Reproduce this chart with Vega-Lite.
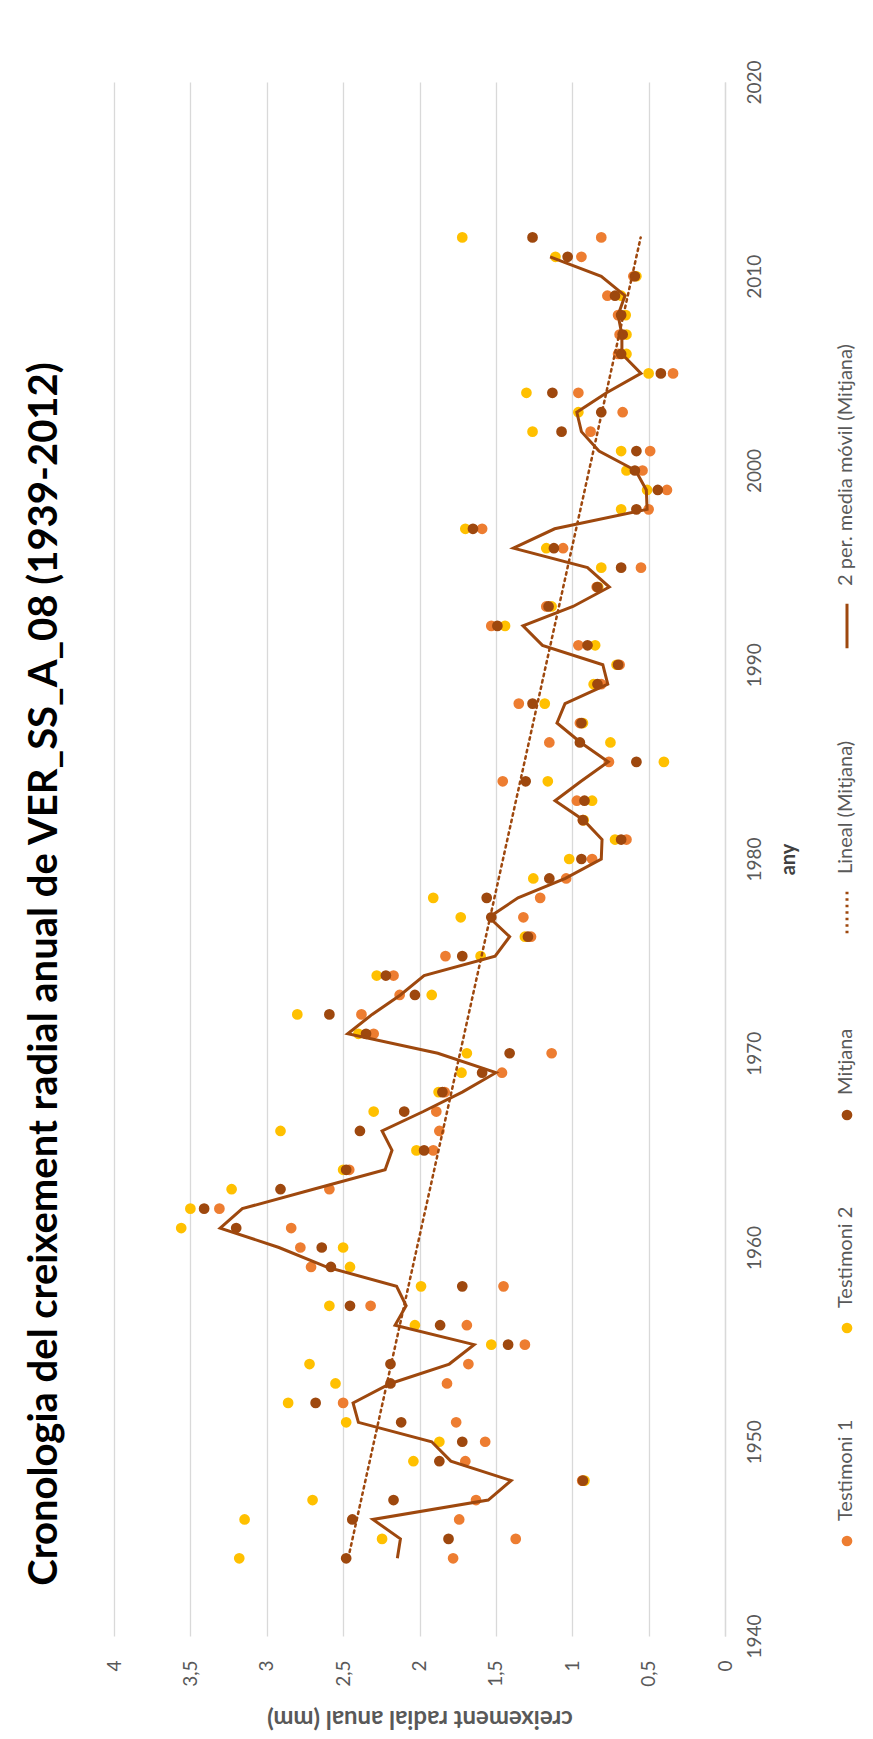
{
  "$schema": "https://vega.github.io/schema/vega-lite/v6.json",
  "width": 611,
  "height": 1554,
  "autosize": {"type": "none"},
  "padding": {"left": 114, "top": 82, "right": 148, "bottom": 103},
  "background": "white",
  "config": {"view": {"stroke": null}, "font": "Lato"},
  "title": {
    "text": "Cronologia del creixement radial anual de VER_SS_A_08 (1939-2012)",
    "orient": "left",
    "anchor": "middle",
    "font": "Lato",
    "fontSize": 40,
    "fontWeight": "bold",
    "color": "#000000",
    "offset": 40,
    "dx": -115
  },
  "data": {
    "values": [
      {"any": 1944, "Testimoni 1": 1.78, "Testimoni 2": 3.18, "Mitjana": 2.48},
      {"any": 1945, "Testimoni 1": 1.37, "Testimoni 2": 2.245, "Mitjana": 1.81},
      {"any": 1946, "Testimoni 1": 1.74, "Testimoni 2": 3.145, "Mitjana": 2.44},
      {"any": 1947, "Testimoni 1": 1.63, "Testimoni 2": 2.70, "Mitjana": 2.17},
      {"any": 1948, "Testimoni 1": 0.935, "Testimoni 2": 0.92, "Mitjana": 0.93},
      {"any": 1949, "Testimoni 1": 1.70, "Testimoni 2": 2.04, "Mitjana": 1.87},
      {"any": 1950, "Testimoni 1": 1.57, "Testimoni 2": 1.87, "Mitjana": 1.72},
      {"any": 1951, "Testimoni 1": 1.76, "Testimoni 2": 2.48, "Mitjana": 2.12},
      {"any": 1952, "Testimoni 1": 2.50, "Testimoni 2": 2.86, "Mitjana": 2.68},
      {"any": 1953, "Testimoni 1": 1.82, "Testimoni 2": 2.55, "Mitjana": 2.19},
      {"any": 1954, "Testimoni 1": 1.68, "Testimoni 2": 2.72, "Mitjana": 2.19},
      {"any": 1955, "Testimoni 1": 1.31, "Testimoni 2": 1.53, "Mitjana": 1.42},
      {"any": 1956, "Testimoni 1": 1.69, "Testimoni 2": 2.03, "Mitjana": 1.865},
      {"any": 1957, "Testimoni 1": 2.32, "Testimoni 2": 2.59, "Mitjana": 2.455},
      {"any": 1958, "Testimoni 1": 1.45, "Testimoni 2": 1.99, "Mitjana": 1.72},
      {"any": 1959, "Testimoni 1": 2.71, "Testimoni 2": 2.455, "Mitjana": 2.58},
      {"any": 1960, "Testimoni 1": 2.78, "Testimoni 2": 2.50, "Mitjana": 2.64},
      {"any": 1961, "Testimoni 1": 2.84, "Testimoni 2": 3.56, "Mitjana": 3.20},
      {"any": 1962, "Testimoni 1": 3.31, "Testimoni 2": 3.50, "Mitjana": 3.41},
      {"any": 1963, "Testimoni 1": 2.59, "Testimoni 2": 3.23, "Mitjana": 2.91},
      {"any": 1964, "Testimoni 1": 2.46, "Testimoni 2": 2.50, "Mitjana": 2.48},
      {"any": 1965, "Testimoni 1": 1.91, "Testimoni 2": 2.02, "Mitjana": 1.97},
      {"any": 1966, "Testimoni 1": 1.87, "Testimoni 2": 2.91, "Mitjana": 2.39},
      {"any": 1967, "Testimoni 1": 1.89, "Testimoni 2": 2.30, "Mitjana": 2.10},
      {"any": 1968, "Testimoni 1": 1.835, "Testimoni 2": 1.875, "Mitjana": 1.85},
      {"any": 1969, "Testimoni 1": 1.46, "Testimoni 2": 1.725, "Mitjana": 1.59},
      {"any": 1970, "Testimoni 1": 1.135, "Testimoni 2": 1.69, "Mitjana": 1.41},
      {"any": 1971, "Testimoni 1": 2.30, "Testimoni 2": 2.40, "Mitjana": 2.35},
      {"any": 1972, "Testimoni 1": 2.38, "Testimoni 2": 2.80, "Mitjana": 2.59},
      {"any": 1973, "Testimoni 1": 2.13, "Testimoni 2": 1.92, "Mitjana": 2.03},
      {"any": 1974, "Testimoni 1": 2.17, "Testimoni 2": 2.28, "Mitjana": 2.22},
      {"any": 1975, "Testimoni 1": 1.83, "Testimoni 2": 1.60, "Mitjana": 1.72},
      {"any": 1976, "Testimoni 1": 1.27, "Testimoni 2": 1.31, "Mitjana": 1.29},
      {"any": 1977, "Testimoni 1": 1.32, "Testimoni 2": 1.73, "Mitjana": 1.53},
      {"any": 1978, "Testimoni 1": 1.21, "Testimoni 2": 1.91, "Mitjana": 1.56},
      {"any": 1979, "Testimoni 1": 1.04, "Testimoni 2": 1.255, "Mitjana": 1.15},
      {"any": 1980, "Testimoni 1": 0.87, "Testimoni 2": 1.02, "Mitjana": 0.94},
      {"any": 1981, "Testimoni 1": 0.645, "Testimoni 2": 0.72, "Mitjana": 0.68},
      {"any": 1982, "Testimoni 1": 0.93, "Testimoni 2": 0.925, "Mitjana": 0.93},
      {"any": 1983, "Testimoni 1": 0.97, "Testimoni 2": 0.87, "Mitjana": 0.92},
      {"any": 1984, "Testimoni 1": 1.455, "Testimoni 2": 1.16, "Mitjana": 1.305},
      {"any": 1985, "Testimoni 1": 0.76, "Testimoni 2": 0.40, "Mitjana": 0.58},
      {"any": 1986, "Testimoni 1": 1.15, "Testimoni 2": 0.75, "Mitjana": 0.95},
      {"any": 1987, "Testimoni 1": 0.95, "Testimoni 2": 0.93, "Mitjana": 0.94},
      {"any": 1988, "Testimoni 1": 1.35, "Testimoni 2": 1.18, "Mitjana": 1.26},
      {"any": 1989, "Testimoni 1": 0.81, "Testimoni 2": 0.86, "Mitjana": 0.835},
      {"any": 1990, "Testimoni 1": 0.69, "Testimoni 2": 0.71, "Mitjana": 0.70},
      {"any": 1991, "Testimoni 1": 0.96, "Testimoni 2": 0.85, "Mitjana": 0.90},
      {"any": 1992, "Testimoni 1": 1.53, "Testimoni 2": 1.44, "Mitjana": 1.49},
      {"any": 1993, "Testimoni 1": 1.17, "Testimoni 2": 1.135, "Mitjana": 1.155},
      {"any": 1994, "Testimoni 1": 0.84, "Testimoni 2": 0.83, "Mitjana": 0.835},
      {"any": 1995, "Testimoni 1": 0.55, "Testimoni 2": 0.81, "Mitjana": 0.68},
      {"any": 1996, "Testimoni 1": 1.06, "Testimoni 2": 1.17, "Mitjana": 1.12},
      {"any": 1997, "Testimoni 1": 1.59, "Testimoni 2": 1.70, "Mitjana": 1.65},
      {"any": 1998, "Testimoni 1": 0.50, "Testimoni 2": 0.68, "Mitjana": 0.58},
      {"any": 1999, "Testimoni 1": 0.38, "Testimoni 2": 0.51, "Mitjana": 0.44},
      {"any": 2000, "Testimoni 1": 0.54, "Testimoni 2": 0.645, "Mitjana": 0.59},
      {"any": 2001, "Testimoni 1": 0.49, "Testimoni 2": 0.68, "Mitjana": 0.58},
      {"any": 2002, "Testimoni 1": 0.88, "Testimoni 2": 1.26, "Mitjana": 1.07},
      {"any": 2003, "Testimoni 1": 0.67, "Testimoni 2": 0.96, "Mitjana": 0.81},
      {"any": 2004, "Testimoni 1": 0.96, "Testimoni 2": 1.30, "Mitjana": 1.13},
      {"any": 2005, "Testimoni 1": 0.34, "Testimoni 2": 0.50, "Mitjana": 0.42},
      {"any": 2006, "Testimoni 1": 0.70, "Testimoni 2": 0.645, "Mitjana": 0.68},
      {"any": 2007, "Testimoni 1": 0.69, "Testimoni 2": 0.645, "Mitjana": 0.67},
      {"any": 2008, "Testimoni 1": 0.70, "Testimoni 2": 0.65, "Mitjana": 0.68},
      {"any": 2009, "Testimoni 1": 0.77, "Testimoni 2": 0.68, "Mitjana": 0.72},
      {"any": 2010, "Testimoni 1": 0.60, "Testimoni 2": 0.58, "Mitjana": 0.59},
      {"any": 2011, "Testimoni 1": 0.94, "Testimoni 2": 1.11, "Mitjana": 1.03},
      {"any": 2012, "Testimoni 1": 0.81, "Testimoni 2": 1.72, "Mitjana": 1.26}
    ]
  },
  "transform": [
    {"fold": ["Testimoni 1", "Testimoni 2", "Mitjana"], "as": ["serie", "valor"]}
  ],
  "encoding": {
    "x": {
      "field": "valor",
      "type": "quantitative",
      "title": "creixement radial anual (mm)",
      "scale": {"domain": [0, 4], "reverse": true, "nice": false, "zero": true},
      "axis": {
        "orient": "bottom",
        "values": [0, 0.5, 1, 1.5, 2, 2.5, 3, 3.5, 4],
        "labelExpr": "replace(toString(datum.value), '.', ',')",
        "labelAngle": -90,
        "labelAlign": "right",
        "labelBaseline": "middle",
        "labelFontSize": 19,
        "labelColor": "#595959",
        "labelPadding": 24,
        "ticks": false,
        "domain": false,
        "grid": true,
        "gridColor": "#D9D9D9",
        "gridWidth": 1.3,
        "titleAngle": 180,
        "titleBaseline": "bottom",
        "titleFontSize": 24,
        "titleFontWeight": "bold",
        "titleColor": "#595959",
        "titlePadding": 19
      }
    },
    "y": {
      "field": "any",
      "type": "quantitative",
      "title": "any",
      "scale": {"domain": [1940, 2020], "nice": false, "zero": false},
      "axis": {
        "orient": "right",
        "values": [1940, 1950, 1960, 1970, 1980, 1990, 2000, 2010, 2020],
        "format": "d",
        "labelAngle": -90,
        "labelAlign": "center",
        "labelBaseline": "top",
        "labelFontSize": 19,
        "labelColor": "#595959",
        "labelPadding": 20,
        "ticks": false,
        "domain": true,
        "domainColor": "#D9D9D9",
        "domainWidth": 1.3,
        "grid": false,
        "titleAngle": -90,
        "titleBaseline": "top",
        "titleFontSize": 20,
        "titleFontWeight": "bold",
        "titleColor": "#404040",
        "titlePadding": 14
      }
    }
  },
  "layer": [
    {
      "mark": {"type": "point", "filled": true, "size": 115, "opacity": 1, "strokeWidth": 0},
      "encoding": {
        "color": {
          "field": "serie",
          "type": "nominal",
          "scale": {
            "domain": ["2 per. media móvil (Mitjana)", "Lineal (Mitjana)", "Mitjana", "Testimoni 2", "Testimoni 1"],
            "range": ["#9E480E", "#9E480E", "#9E480E", "#FFC000", "#ED7D31"]
          },
          "legend": {
            "orient": "none",
            "legendX": 723,
            "legendY": 534,
            "direction": "vertical",
            "title": null,
            "labelFontSize": 20,
            "labelColor": "#595959",
            "labelLimit": 0,
            "labelOffset": -11,
            "labelAlign": "left",
            "labelBaseline": "middle",
            "rowPadding": 85,
            "symbolSize": 115,
            "encoding": {
              "labels": {
                "angle": {"value": -90},
                "dx": {"value": {"expr": "indexof(['Lineal (Mitjana)','2 per. media móvil (Mitjana)'], datum.value) >= 0 ? 40 : 20"}}
              },
              "symbols": {
                "shape": {"value": {"expr": "indexof(['Lineal (Mitjana)','2 per. media móvil (Mitjana)'], datum.value) >= 0 ? 'M0,-1L0,1' : 'circle'"}},
                "size": {"value": {"expr": "indexof(['Lineal (Mitjana)','2 per. media móvil (Mitjana)'], datum.value) >= 0 ? 2000 : 115"}},
                "fill": {"value": {"expr": "indexof(['Lineal (Mitjana)','2 per. media móvil (Mitjana)'], datum.value) >= 0 ? 'transparent' : scale('color', datum.value)"}},
                "stroke": {"value": {"expr": "indexof(['Lineal (Mitjana)','2 per. media móvil (Mitjana)'], datum.value) >= 0 ? scale('color', datum.value) : 'transparent'"}},
                "strokeWidth": {"value": {"expr": "indexof(['Lineal (Mitjana)','2 per. media móvil (Mitjana)'], datum.value) >= 0 ? 3 : 0"}},
                "strokeDash": {"value": {"expr": "datum.value === 'Lineal (Mitjana)' ? [2.5, 4] : [1, 0]"}},
                "opacity": {"value": 1}
              }
            }
          }
        }
      }
    },
    {
      "transform": [
        {"filter": "datum.serie === 'Mitjana'"},
        {"regression": "valor", "on": "any", "extent": [1944, 2012]}
      ],
      "mark": {"type": "line", "strokeDash": [2.5, 4], "strokeWidth": 2.5, "strokeCap": "round"},
      "encoding": {
        "order": {"field": "any", "type": "quantitative"},
        "color": {"datum": "Lineal (Mitjana)", "legend": null}
      }
    },
    {
      "transform": [
        {"filter": "datum.serie === 'Mitjana'"},
        {
          "window": [
            {"op": "mean", "field": "valor", "as": "mm"},
            {"op": "count", "as": "n"}
          ],
          "sort": [{"field": "any", "order": "ascending"}],
          "frame": [0, 1]
        },
        {"filter": "datum.n === 2"}
      ],
      "mark": {"type": "line", "strokeWidth": 3, "strokeJoin": "miter"},
      "encoding": {
        "x": {"field": "mm", "type": "quantitative", "title": "creixement radial anual (mm)"},
        "order": {"field": "any", "type": "quantitative"},
        "color": {"datum": "2 per. media móvil (Mitjana)", "legend": null}
      }
    }
  ]
}
